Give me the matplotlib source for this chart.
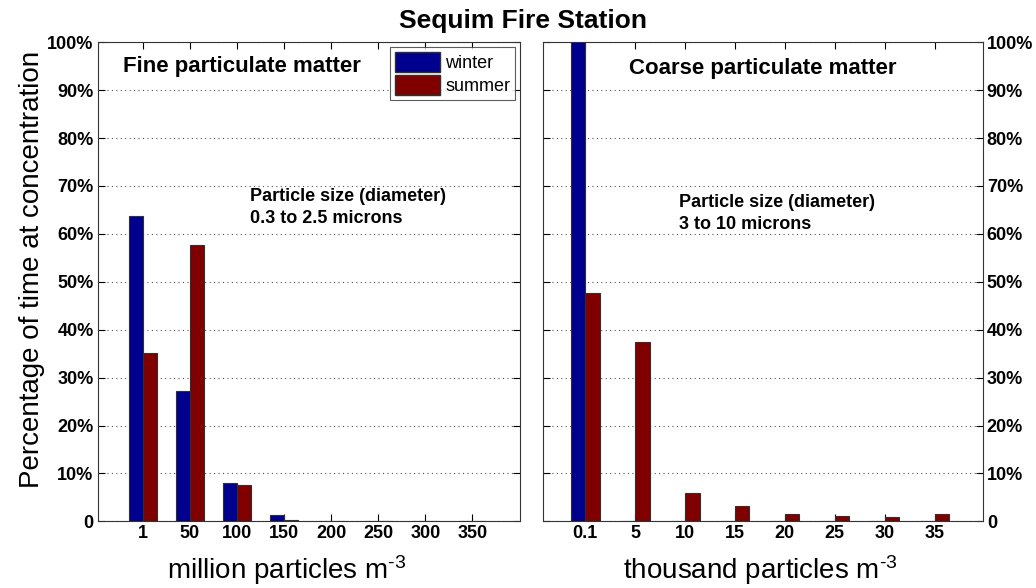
import numpy as np
import matplotlib
matplotlib.use("Agg")
import matplotlib.pyplot as plt
from matplotlib.patches import Patch

plt.rcParams['font.family'] = ['Liberation Sans', 'DejaVu Sans']
plt.rcParams['mathtext.fontset'] = 'custom'
plt.rcParams['mathtext.rm'] = 'Liberation Sans'
plt.rcParams['mathtext.default'] = 'regular'

# fine particles, million per m^3
fine_bins = ['1', '50', '100', '150', '200', '250', '300', '350']
fine_winter = [63.7, 27.1, 7.9, 1.4, 0.15, 0.0, 0.0, 0.0]
fine_summer = [35.1, 57.6, 7.6, 0.2, 0.0, 0.0, 0.0, 0.0]

# coarse particles, thousand per m^3
coarse_bins = ['0.1', '5', '10', '15', '20', '25', '30', '35']
coarse_winter = [100.0, 0.15, 0.0, 0.0, 0.0, 0.0, 0.0, 0.0]
coarse_summer = [47.6, 37.5, 6.0, 3.3, 1.5, 1.05, 0.9, 1.5]

WINTER = '#00008f'
SUMMER = '#800000'
yticks = np.arange(0, 101, 10)
ylabels = ['0'] + ['%d%%' % v for v in yticks[1:]]


def draw_panel(ax, labels, winter, summer, xlim):
    x = np.arange(1, len(labels) + 1)
    w = 0.29
    ax.bar(x - w / 2, winter, w, color=WINTER, edgecolor='#303030', linewidth=0.8, zorder=3)
    ax.bar(x + w / 2, summer, w, color=SUMMER, edgecolor='#303030', linewidth=0.8, zorder=3)
    ax.set_xlim(*xlim)
    ax.set_ylim(0, 100)
    ax.set_xticks(x)
    ax.set_xticklabels(labels, fontsize=13, fontweight='bold')
    ax.set_yticks(yticks)
    ax.set_yticklabels(ylabels, fontsize=13, fontweight='bold')
    ax.yaxis.grid(True, linestyle=(0, (1, 3)), color='#555555', linewidth=0.8)
    ax.set_axisbelow(True)
    ax.tick_params(direction='in', top=True, right=True, length=5, width=0.8, pad=3)
    for s in ax.spines.values():
        s.set_linewidth(0.8)
        s.set_color('#333333')


fig = plt.figure(figsize=(10.36, 5.88), dpi=100)
ax1 = fig.add_axes([0.0943, 0.1134, 0.408, 0.8147])
ax2 = fig.add_axes([0.5244, 0.1134, 0.4241, 0.8147])

draw_panel(ax1, fine_bins, fine_winter, fine_summer, (0.04, 9.02))
draw_panel(ax2, coarse_bins, coarse_winter, coarse_summer, (0.16, 8.96))

ax2.yaxis.tick_right()
ax2.tick_params(direction='in', left=True, right=True)

ax1.set_ylabel('Percentage of time at concentration', fontsize=20)
ax1.yaxis.set_label_coords(-0.124, 0.526)
ax1.set_xlabel(r'million particles m$^{\text{-3}}$', fontsize=20)
ax1.xaxis.set_label_coords(0.448, -0.066)
ax2.set_xlabel(r'thousand particles m$^{\text{-3}}$', fontsize=20)
ax2.xaxis.set_label_coords(0.495, -0.066)

ax1.text(0.06, 0.95, 'Fine particulate matter', transform=ax1.transAxes,
         fontsize=16, fontweight='bold', va='center', ha='left')
ax1.text(0.36, 0.655, 'Particle size (diameter)\n0.3 to 2.5 microns', transform=ax1.transAxes,
         fontsize=13, fontweight='bold', va='center', ha='left', linespacing=1.35)
ax2.text(0.195, 0.945, 'Coarse particulate matter', transform=ax2.transAxes,
         fontsize=16, fontweight='bold', va='center', ha='left')
ax2.text(0.31, 0.642, 'Particle size (diameter)\n3 to 10 microns', transform=ax2.transAxes,
         fontsize=13, fontweight='bold', va='center', ha='left', linespacing=1.35)

handles = [Patch(facecolor=WINTER, edgecolor='#303030', label='winter'),
           Patch(facecolor=SUMMER, edgecolor='#303030', label='summer')]
leg = ax1.legend(handles=handles, loc='upper right', bbox_to_anchor=(0.995, 0.997),
                 fontsize=13, frameon=True, fancybox=False, handlelength=2.5,
                 handleheight=1.3, handletextpad=0.3, borderpad=0.25, labelspacing=0.2,
                 borderaxespad=0.2)
leg.get_frame().set_edgecolor('#333333')
leg.get_frame().set_linewidth(0.8)

fig.suptitle('Sequim Fire Station', x=0.505, y=0.984, fontsize=19, fontweight='bold')

fig.savefig('out.png', dpi=100)
